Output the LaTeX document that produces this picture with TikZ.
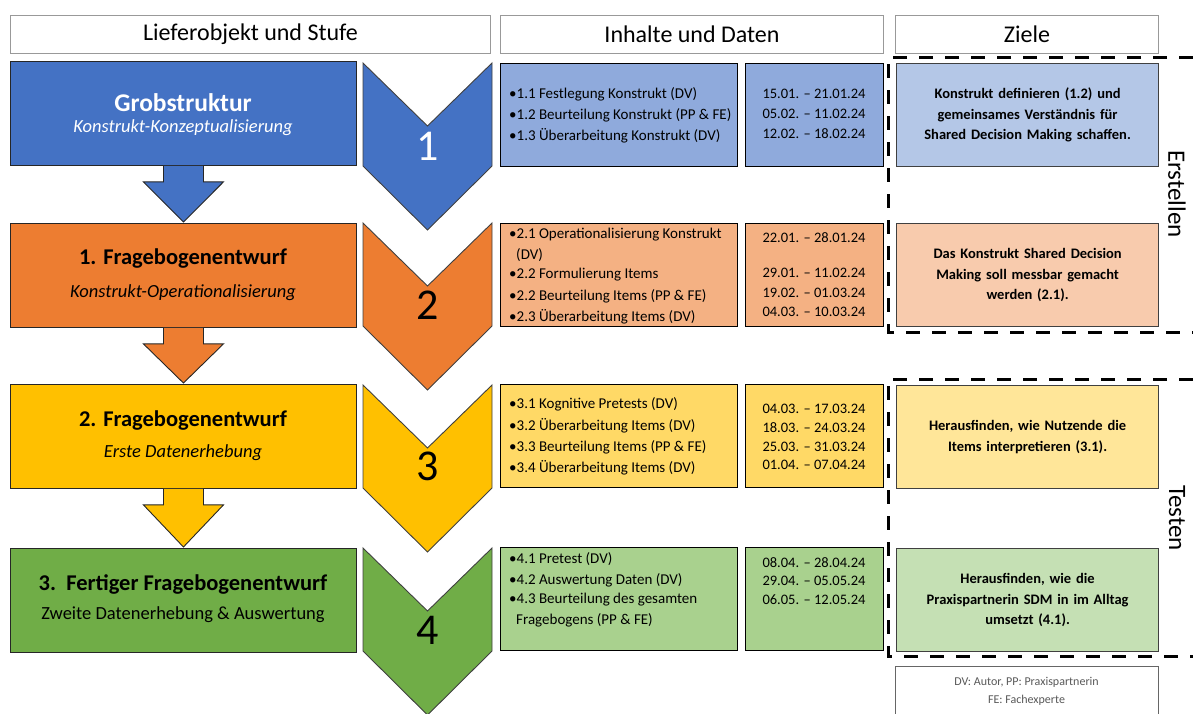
\documentclass[tikz,border=0pt]{standalone}
\usepackage{fontspec}
\setmainfont{Carlito}
\usetikzlibrary{calc}

\definecolor{blueA}{HTML}{4472C4}
\definecolor{blueB}{HTML}{8FAADC}
\definecolor{blueC}{HTML}{B4C7E7}
\definecolor{orangeA}{HTML}{ED7D31}
\definecolor{orangeB}{HTML}{F4B183}
\definecolor{orangeC}{HTML}{F8CBAD}
\definecolor{yellowA}{HTML}{FFC000}
\definecolor{yellowB}{HTML}{FFD966}
\definecolor{yellowC}{HTML}{FFE699}
\definecolor{greenA}{HTML}{70AD47}
\definecolor{greenB}{HTML}{A9D18E}
\definecolor{greenC}{HTML}{C5E0B4}

\tikzset{
  headbox/.style={draw=black!40, line width=1pt, fill=white, minimum height=38pt,
    anchor=north west, inner sep=0pt, font=\fontsize{24}{28}\selectfont},
  stagebox/.style={draw=black!85, line width=0.9pt, minimum width=346pt,
    minimum height=104pt, anchor=north west, inner sep=0pt},
  blockarrow/.style={draw=black!85, line width=0.9pt, line join=miter},
  chevframe/.style={draw=black!75, line width=0.9pt, line join=miter},
  itembox/.style={draw=black, line width=1.4pt, minimum width=237pt,
    minimum height=103pt, anchor=north west, inner sep=0pt},
  datebox/.style={draw=black, line width=1.4pt, minimum width=138pt,
    minimum height=103pt, anchor=north west, inner sep=0pt},
  goalbox/.style={draw=black!75, line width=1.2pt, minimum width=262pt,
    minimum height=103pt, anchor=north west, inner sep=0pt, text width=250pt,
    align=center, font=\bfseries\fontsize{14.5}{20.5}\selectfont},
  stagetitle/.style={font=\bfseries\fontsize{22.5}{27}\selectfont, inner sep=0pt},
  stagesub/.style={font=\fontsize{18.5}{22}\selectfont, inner sep=0pt},
  numlabel/.style={font=\fontsize{44}{50}\selectfont, inner sep=0pt},
  itemtext/.style={font=\fontsize{15}{17}\selectfont, anchor=west, inner sep=0pt},
  datetext/.style={font=\fontsize{14.5}{17}\selectfont, inner sep=0pt},
  phasetext/.style={font=\fontsize{25}{29}\selectfont, rotate=-90, inner sep=0pt},
  legendtext/.style={font=\fontsize{12}{14}\selectfont, text=black!65, inner sep=0pt},
  dashline/.style={line width=3pt, dash pattern=on 14pt off 12pt},
}

% chevron with a notch on top and a point at the bottom
\newcommand{\chevronat}[2]{%
  \filldraw[chevframe, fill=#2] (363,#1) -- (427.5,#1+63) -- (492,#1)
    -- (492,#1+103) -- (427.5,#1+167) -- (363,#1+103) -- cycle;}

\begin{document}
\begin{tikzpicture}[x=1pt, y=-1pt]
\useasboundingbox (0,0) rectangle (1193,713);

% column headers
\node[headbox, minimum width=480pt] (h1) at (10,15) {Lieferobjekt und Stufe};
\node[headbox, minimum width=383pt] (h2) at (500,15) {Inhalte und Daten};
\node[headbox, minimum width=263pt] (h3) at (895,15) {Ziele};

% stages
\node[stagebox, fill=blueA]   (b1) at (10,61)  {};
\node[stagebox, fill=orangeA] (b2) at (10,223) {};
\node[stagebox, fill=yellowA] (b3) at (10,384) {};
\node[stagebox, fill=greenA]  (b4) at (10,548) {};

\node[stagetitle, text=white, font=\bfseries\fontsize{25.5}{30}\selectfont] (t1) at (183,103) {Grobstruktur};
\node[stagesub, text=white, font=\itshape\fontsize{18.5}{22}\selectfont] (s1) at (183,128) {Konstrukt-Konzeptualisierung};
\node[stagetitle] (t2) at (183,259) {1. Fragebogenentwurf};
\node[stagesub, font=\itshape\fontsize{18.5}{22}\selectfont] (s2) at (183,293) {Konstrukt-Operationalisierung};
\node[stagetitle] (t3) at (183,421) {2. Fragebogenentwurf};
\node[stagesub, font=\itshape\fontsize{18.5}{22}\selectfont] (s3) at (183,453) {Erste Datenerhebung};
\node[stagetitle] (t4) at (183,584) {3.\ \ Fertiger Fragebogenentwurf};
\node[stagesub] (s4) at (183,615) {Zweite Datenerhebung \& Auswertung};

% block arrows between stages
\filldraw[blockarrow, fill=blueA] ($(b1.south)+(-20,0)$) -- ++(0,16) -- ++(-20,0)
  -- ($(b2.north)+(0,-1)$) -- ($(b1.south)+(40,16)$) -- ++(-20,0) -- ++(0,-16);
\filldraw[blockarrow, fill=orangeA] ($(b2.south)+(-20,0)$) -- ++(0,16) -- ++(-20,0)
  -- ($(b3.north)+(0,-1)$) -- ($(b2.south)+(40,16)$) -- ++(-20,0) -- ++(0,-16);
\filldraw[blockarrow, fill=yellowA] ($(b3.south)+(-20,0)$) -- ++(0,16) -- ++(-20,0)
  -- ($(b4.north)+(0,-1)$) -- ($(b3.south)+(40,16)$) -- ++(-20,0) -- ++(0,-16);

% chevrons
\chevronat{63}{blueA}
\chevronat{223}{orangeA}
\chevronat{385}{yellowA}
\chevronat{548}{greenA}
\node[numlabel, text=white] (n1) at (427.5,146) {1};
\node[numlabel] (n2) at (427.5,305) {2};
\node[numlabel] (n3) at (427.5,466) {3};
\node[numlabel] (n4) at (427.5,630) {4};

% contents
\node[itembox, fill=blueB]   (c1) at (500,63)  {};
\node[itembox, fill=orangeB] (c2) at (500,223) {};
\node[itembox, fill=yellowB] (c3) at (500,384) {};
\node[itembox, fill=greenB]  (c4) at (500,547) {};

\node[itemtext] (c1a) at (509,94)  {•1.1 Festlegung Konstrukt (DV)};
\node[itemtext] (c1b) at (509,115) {•1.2 Beurteilung Konstrukt (PP \& FE)};
\node[itemtext] (c1c) at (509,136) {•1.3 Überarbeitung Konstrukt (DV)};

\node[itemtext] (c2a) at (509,235) {•2.1 Operationalisierung Konstrukt};
\node[itemtext] (c2b) at (516,255) {(DV)};
\node[itemtext] (c2c) at (509,275) {•2.2 Formulierung Items};
\node[itemtext] (c2d) at (509,296) {•2.2 Beurteilung Items (PP \& FE)};
\node[itemtext] (c2e) at (509,317) {•2.3 Überarbeitung Items (DV)};

\node[itemtext] (c3a) at (509,404) {•3.1 Kognitive Pretests (DV)};
\node[itemtext] (c3b) at (509,426) {•3.2 Überarbeitung Items (DV)};
\node[itemtext] (c3c) at (509,447) {•3.3 Beurteilung Items (PP \& FE)};
\node[itemtext] (c3d) at (509,468) {•3.4 Überarbeitung Items (DV)};

\node[itemtext] (c4a) at (509,559) {•4.1 Pretest (DV)};
\node[itemtext] (c4b) at (509,580) {•4.2 Auswertung Daten (DV)};
\node[itemtext] (c4c) at (509,600) {•4.3 Beurteilung des gesamten};
\node[itemtext] (c4d) at (516,620) {Fragebogens (PP \& FE)};

% dates
\node[datebox, fill=blueB]   (d1) at (745,63)  {};
\node[datebox, fill=orangeB] (d2) at (745,223) {};
\node[datebox, fill=yellowB] (d3) at (745,384) {};
\node[datebox, fill=greenB]  (d4) at (745,547) {};

\node[datetext] (d1a) at (814,94)  {15.01. – 21.01.24};
\node[datetext] (d1b) at (814,114) {05.02. – 11.02.24};
\node[datetext] (d1c) at (814,134) {12.02. – 18.02.24};

\node[datetext] (d2a) at (814,238) {22.01. – 28.01.24};
\node[datetext] (d2b) at (814,273) {29.01. – 11.02.24};
\node[datetext] (d2c) at (814,293) {19.02. – 01.03.24};
\node[datetext] (d2d) at (814,312) {04.03. – 10.03.24};

\node[datetext] (d3a) at (814,409) {04.03. – 17.03.24};
\node[datetext] (d3b) at (814,428) {18.03. – 24.03.24};
\node[datetext] (d3c) at (814,447) {25.03. – 31.03.24};
\node[datetext] (d3d) at (814,465) {01.04. – 07.04.24};

\node[datetext] (d4a) at (814,563) {08.04. – 28.04.24};
\node[datetext] (d4b) at (814,581) {29.04. – 05.05.24};
\node[datetext] (d4c) at (814,600) {06.05. – 12.05.24};

% goals
\node[goalbox, fill=blueC]   (g1) at (896,63)
  {Konstrukt definieren (1.2) und\\gemeinsames Verständnis für\\Shared Decision Making schaffen.};
\node[goalbox, fill=orangeC] (g2) at (896,223)
  {Das Konstrukt Shared Decision\\Making soll messbar gemacht\\werden (2.1).};
\node[goalbox, fill=yellowC] (g3) at (896,385)
  {Herausfinden, wie Nutzende die\\Items interpretieren (3.1).};
\node[goalbox, fill=greenC]  (g4) at (896,548)
  {Herausfinden, wie die\\Praxispartnerin SDM in im Alltag\\umsetzt (4.1).};

% phase frames
\draw[dashline] (1193,57) -- (888,57) -- (888,332) -- (1193,332);
\draw[dashline] (1193,379) -- (888,379) -- (888,656) -- (1193,656);
\node[phasetext] (p1) at (1177,194) {Erstellen};
\node[phasetext] (p2) at (1177,518) {Testen};

% legend
\node[draw=black!60, line width=1pt, fill=white, minimum width=263pt, minimum height=60pt,
  anchor=north west, inner sep=0pt] (leg) at (895,666) {};
\node[legendtext] (l1) at (1026.5,682) {DV: Autor, PP: Praxispartnerin};
\node[legendtext] (l2) at (1026.5,700) {FE: Fachexperte};
\end{tikzpicture}
\end{document}
